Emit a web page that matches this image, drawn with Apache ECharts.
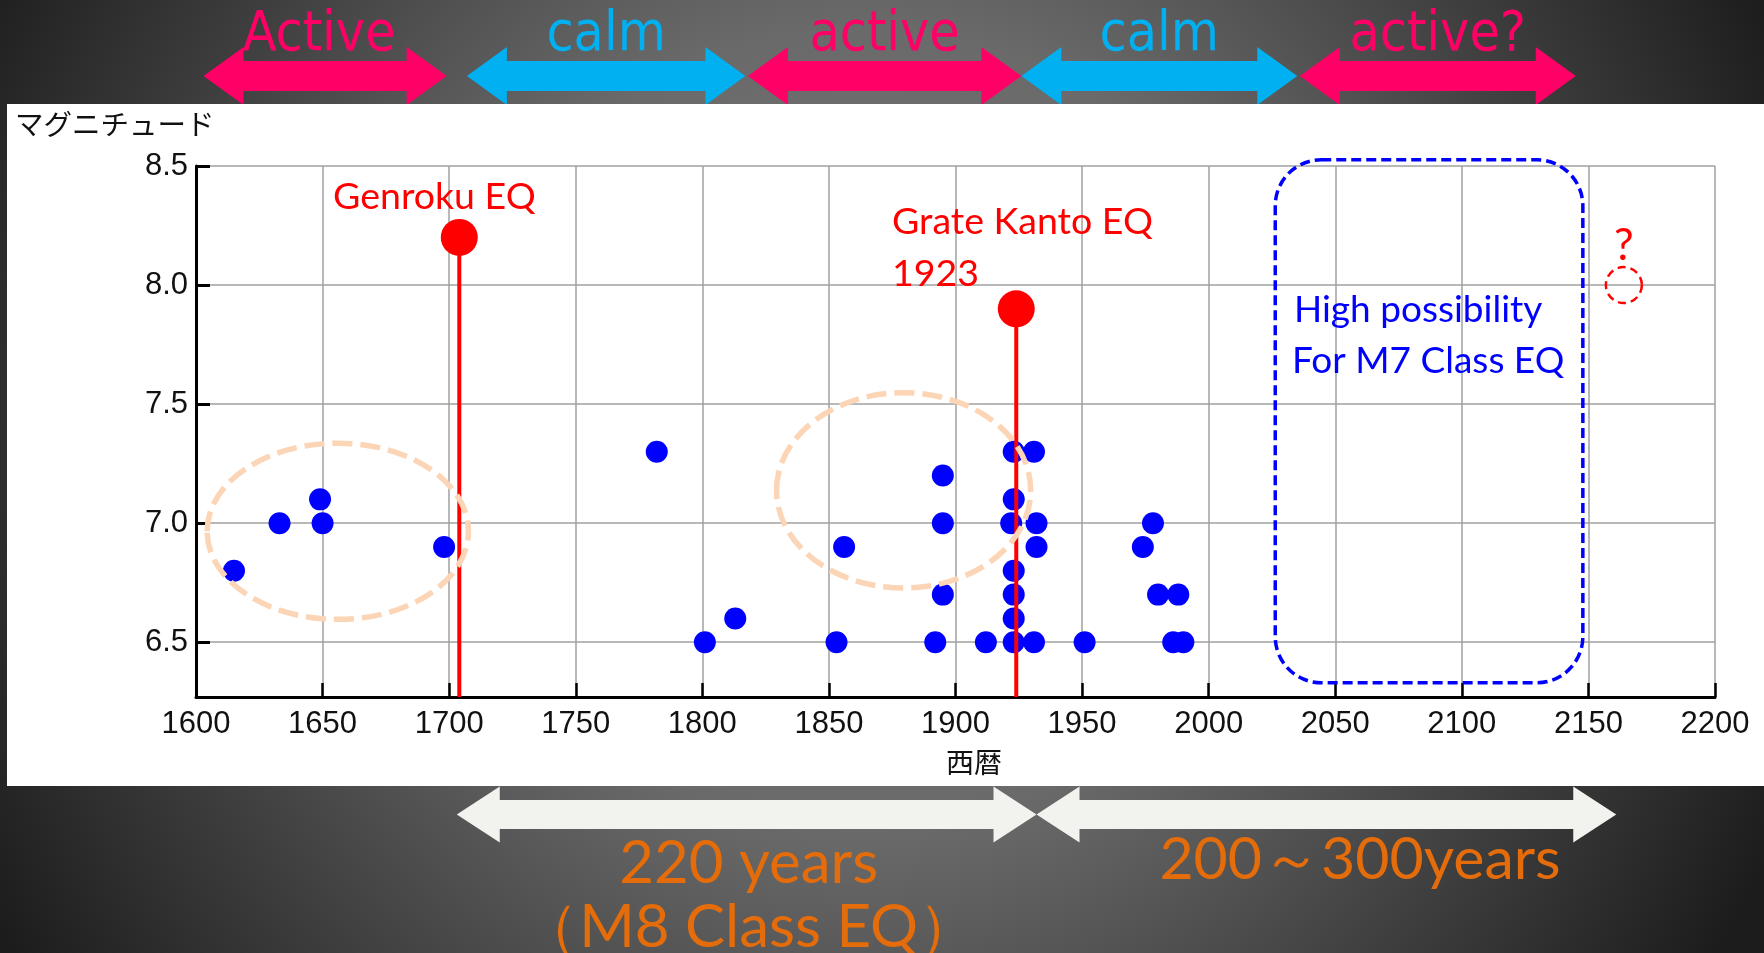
<!DOCTYPE html>
<html><head><meta charset="utf-8">
<script src="https://cdn.jsdelivr.net/npm/echarts@6/dist/echarts.min.js"></script>
<style>html,body{margin:0;padding:0;background:#333;overflow:hidden}#c{width:1764px;height:953px}</style>
</head><body><div id="c"></div>
<script>
// ---- data ----
const quakeYears = [1615,1633,1649,1650,1698,1782,1801,1813,1853,1856,1892,1895,1895,1895,1912,1923,1923,1922,1923,1923,1923,1923,1931,1932,1932,1931,1951,1974,1978,1980,1988,1986,1990];
const quakeMags  = [6.8, 7.0, 7.1, 7.0, 6.9, 7.3, 6.5, 6.6, 6.5, 6.9, 6.5, 7.2, 7.0, 6.7, 6.5, 7.3, 7.1, 7.0, 6.8, 6.7, 6.6, 6.5, 7.3, 7.0, 6.9, 6.5, 6.5, 6.9, 7.0, 6.7, 6.7, 6.5, 6.5];
const majorYears = [1704, 1924];
const majorMags  = [8.2, 7.9];
const majorNames = ['Genroku EQ', 'Grate Kanto EQ', '1923'];
const futureYears = [2164];
const futureMags  = [8.0];
const xTicks = [1600, 2200, 50];
const yRange = [6.27, 8.5];
const periodNames = ['Active', 'calm', 'active', 'calm', 'active?'];
const periodKinds = ['active', 'calm', 'active', 'calm', 'active'];
const periodSpans = [[1603, 1699], [1707, 1817], [1818, 1926], [1926, 2035], [2036, 2145]];
const cycleNames = ['220 years', '（M8 Class EQ）', '200～300years'];
const cycleSpans = [[1703, 1932], [1932, 2161]];
const clusterCenters = [[1656, 6.966], [1879.5, 7.138]];
const clusterRadii = [[51.6, 0.37], [50.2, 0.41]];
const forecastBox = [2026.3, 2147.8, 6.33, 8.526];
const forecastText = ['High possibility', 'For M7 Class EQ'];
const axisNames = ['マグニチュード', '西暦'];

const chart = echarts.init(document.getElementById('c'), null, {renderer: 'canvas'});
const W = 1764, H = 953;
const tickFont = "'Liberation Sans', Arial, sans-serif";
const noteFont = "Lato, 'Open Sans', sans-serif";

const series = [
  {type: 'scatter', z: 2, symbolSize: 22, itemStyle: {color: '#0000FF', opacity: 1},
   data: quakeYears.map((y, i) => [y, quakeMags[i]])}
];
majorYears.forEach((y, i) => {
  series.push({type: 'line', z: 3, symbol: 'none', lineStyle: {color: '#FF0000', width: 4},
    data: [[y, yRange[0]], [y, majorMags[i]]]});
});
series.push({type: 'scatter', z: 4, symbolSize: 37, itemStyle: {color: '#FF0000', opacity: 1},
  data: majorYears.map((y, i) => [y, majorMags[i]])});
series.push({type: 'scatter', z: 4, symbolSize: 36,
  itemStyle: {color: 'rgba(0,0,0,0)', borderColor: '#FF0000', borderWidth: 2.5, borderType: [8, 5], opacity: 1},
  label: {show: true, position: 'top', distance: -2, formatter: '?', color: '#FF0000', fontSize: 44, fontFamily: noteFont},
  data: futureYears.map((y, i) => [y, futureMags[i]])});

chart.setOption({
  animation: false,
  grid: {left: 196, right: 49, top: 166, bottom: 256, containLabel: false},
  xAxis: {
    type: 'value', min: xTicks[0], max: xTicks[1], interval: xTicks[2],
    axisLine: {show: true, onZero: false, lineStyle: {color: '#000', width: 3}},
    axisTick: {show: true, inside: true, length: 14, lineStyle: {color: '#000', width: 2.5}},
    axisLabel: {fontSize: 31, color: '#111', margin: 12, fontFamily: tickFont, formatter: v => String(v)},
    splitLine: {show: true, lineStyle: {color: '#a0a0a0', width: 1.5}}
  },
  yAxis: {
    type: 'value', min: yRange[0], max: yRange[1], minInterval: 0.5, maxInterval: 0.5, splitNumber: 5,
    axisLine: {show: true, onZero: false, lineStyle: {color: '#000', width: 3}},
    axisTick: {show: true, inside: true, length: 14, lineStyle: {color: '#000', width: 3}},
    axisLabel: {showMinLabel: false, fontSize: 31, color: '#111', margin: 8, fontFamily: tickFont,
      formatter: v => v.toFixed(1)},
    splitLine: {show: true, lineStyle: {color: '#a0a0a0', width: 1.5}}
  },
  series: series
});

const px = v => chart.convertToPixel({xAxisIndex: 0}, v);
const py = v => chart.convertToPixel({yAxisIndex: 0}, v);

function dblArrow(x1, x2, cy, sh, hh, hl) {
  return [[x1, cy], [x1 + hl, cy - hh], [x1 + hl, cy - sh], [x2 - hl, cy - sh], [x2 - hl, cy - hh],
          [x2, cy], [x2 - hl, cy + hh], [x2 - hl, cy + sh], [x1 + hl, cy + sh], [x1 + hl, cy + hh]];
}

const g = [];
g.push({type: 'rect', z: -30, silent: true, shape: {x: 0, y: 0, width: W, height: H},
  style: {fill: new echarts.graphic.RadialGradient(0.49, 0.45, 1.05, [
    {offset: 0, color: '#777777'}, {offset: 0.4, color: '#6a6a6a'},
    {offset: 0.75, color: '#3c3c3c'}, {offset: 1, color: '#1c1c1c'}])}});
// top period arrows
const pink = '#FF0066', cyan = '#00B0F0';
periodSpans.forEach((s, i) => {
  const col = periodKinds[i] === 'active' ? pink : cyan;
  g.push({type: 'polygon', z: -25, silent: true,
    shape: {points: dblArrow(px(s[0]), px(s[1]), 76, 15, 29, 40)}, style: {fill: col}});
  g.push({type: 'text', z: -24, silent: true, x: (px(s[0]) + px(s[1])) / 2 + (i === 0 ? -6 : 0), y: 63,
    style: {text: periodNames[i], fill: col, fontSize: 55, fontFamily: "'DejaVu Sans Condensed', 'DejaVu Sans', sans-serif",
      align: 'center', verticalAlign: 'bottom'}});
});
// white panel
g.push({type: 'rect', z: -20, silent: true, shape: {x: 7, y: 104, width: W - 7, height: 682}, style: {fill: '#ffffff'}});
// bottom cycle arrows
cycleSpans.forEach((s, i) => {
  g.push({type: 'polygon', z: -25, silent: true,
    shape: {points: dblArrow(px(s[0]), px(s[1]), 814.5, 14.5, 28, 43)}, style: {fill: '#F2F2EE'}});
});
const orange = '#E46C0A';
const c0 = (px(cycleSpans[0][0]) + px(cycleSpans[0][1])) / 2 + 2;
g.push({type: 'text', z: 10, silent: true, x: c0, y: 894,
  style: {text: cycleNames[0], fill: orange, fontSize: 60, fontFamily: noteFont, align: 'center', verticalAlign: 'bottom'}});
g.push({type: 'text', z: 10, silent: true, x: c0, y: 958,
  style: {text: cycleNames[1], fill: orange, fontSize: 60, fontFamily: noteFont, align: 'center', verticalAlign: 'bottom'}});
g.push({type: 'text', z: 10, silent: true, x: 1360, y: 889,
  style: {text: cycleNames[2], fill: orange, fontSize: 59, fontFamily: noteFont, align: 'center', verticalAlign: 'bottom'}});
// cluster ellipses
clusterCenters.forEach((c, i) => {
  const cx = px(c[0]), cy = py(c[1]);
  g.push({type: 'ellipse', z: 20, silent: true,
    shape: {cx: cx, cy: cy, rx: px(c[0] + clusterRadii[i][0]) - cx, ry: cy - py(c[1] + clusterRadii[i][1])},
    style: {fill: 'none', stroke: '#FBD5B5', lineWidth: 5.5, lineDash: [20, 8]}});
});
// forecast box
const bx1 = px(forecastBox[0]), bx2 = px(forecastBox[1]), by1 = py(forecastBox[3]), by2 = py(forecastBox[2]);
g.push({type: 'rect', z: 20, silent: true, shape: {x: bx1, y: by1, width: bx2 - bx1, height: by2 - by1, r: 46},
  style: {fill: 'none', stroke: '#0000FF', lineWidth: 3.5, lineDash: [10, 5]}});
g.push({type: 'text', z: 20, silent: true, x: 1294, y: 329,
  style: {text: forecastText[0], fill: '#0000FF', fontSize: 37, fontFamily: noteFont, align: 'left', verticalAlign: 'bottom'}});
g.push({type: 'text', z: 20, silent: true, x: 1292, y: 380,
  style: {text: forecastText[1], fill: '#0000FF', fontSize: 37, fontFamily: noteFont, align: 'left', verticalAlign: 'bottom'}});
// event labels
g.push({type: 'text', z: 20, silent: true, x: 333, y: 216,
  style: {text: majorNames[0], fill: '#FF0000', fontSize: 37.5, fontFamily: noteFont, align: 'left', verticalAlign: 'bottom'}});
g.push({type: 'text', z: 20, silent: true, x: 892, y: 241,
  style: {text: majorNames[1], fill: '#FF0000', fontSize: 37.5, fontFamily: noteFont, align: 'left', verticalAlign: 'bottom'}});
g.push({type: 'text', z: 20, silent: true, x: 892, y: 293,
  style: {text: majorNames[2], fill: '#FF0000', fontSize: 37.5, fontFamily: noteFont, align: 'left', verticalAlign: 'bottom'}});
// axis names
g.push({type: 'text', z: 20, silent: true, x: 15, y: 124,
  style: {text: axisNames[0], fill: '#111', fontSize: 28.5, fontFamily: "'Noto Sans CJK JP', sans-serif", align: 'left', verticalAlign: 'middle'}});
g.push({type: 'text', z: 20, silent: true, x: 974, y: 762,
  style: {text: axisNames[1], fill: '#111', fontSize: 28, fontFamily: "'Noto Sans CJK JP', sans-serif", align: 'center', verticalAlign: 'middle'}});

chart.setOption({graphic: {elements: g}});
</script></body></html>
